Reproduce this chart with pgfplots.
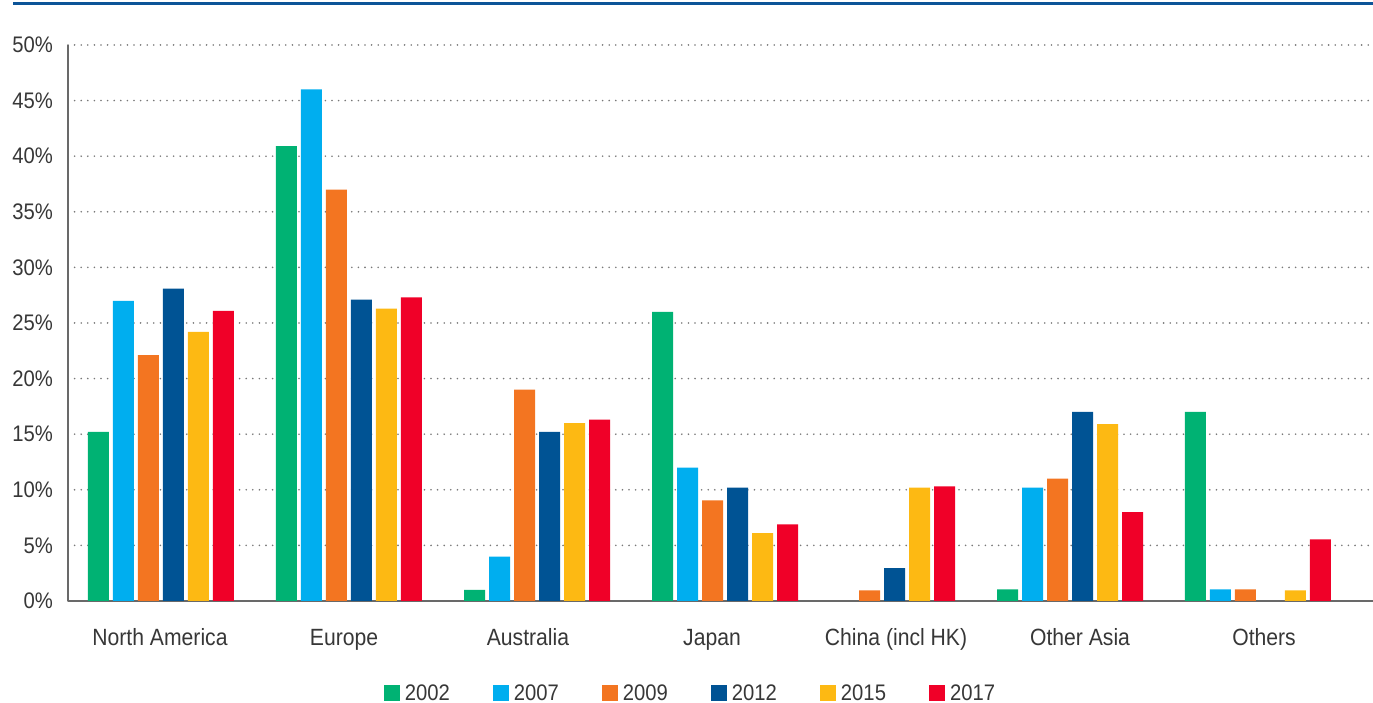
\documentclass[border=0pt]{standalone}
\usepackage{pgfplots}
\pgfplotsset{compat=1.18}
\usepackage{fontspec}
\setmainfont{Liberation Sans}[FakeStretch=0.9]
\definecolor{c2002}{RGB}{0,178,115}
\definecolor{c2007}{RGB}{0,174,239}
\definecolor{c2009}{RGB}{243,117,33}
\definecolor{c2012}{RGB}{0,83,148}
\definecolor{c2015}{RGB}{253,185,19}
\definecolor{c2017}{RGB}{240,0,40}
\definecolor{topblue}{RGB}{12,84,152}
\definecolor{txt}{RGB}{55,55,55}
\definecolor{axisgray}{RGB}{105,105,105}
\definecolor{gridgray}{RGB}{120,120,120}
% group centres (in category units; labels sit at 0,...,6)
% NA 0.005, Europe 1.027, Australia 2.049, Japan 3.071, China 3.924, Other Asia 4.946, Others 5.967
\begin{document}
\begin{tikzpicture}
\useasboundingbox (0pt,0pt) rectangle (1373pt,703pt);
\draw[line width=2.4pt, topblue] (13pt,699.5pt) -- (1373pt,699.5pt);
\begin{axis}[
  at={(68pt,102pt)}, anchor=south west,
  scale only axis, width=1305pt, height=556pt,
  xmin=-0.5, xmax=6.592, ymin=0, ymax=50,
  ybar=4pt, bar width=21pt,
  axis x line*=bottom, axis y line*=left,
  x axis line style={-, axisgray, line width=2.5pt},
  y axis line style={-, axisgray, line width=2pt},
  xtick={0,...,6},
  xticklabels={North America, Europe, Australia, Japan, China (incl HK), Other Asia, Others},
  ytick={0,5,...,50},
  yticklabels={0\%,5\%,10\%,15\%,20\%,25\%,30\%,35\%,40\%,45\%,50\%},
  major tick length=0pt,
  ymajorgrids,
  grid style={gridgray, line width=1.8pt, line cap=round, dash pattern=on 0pt off 6.6pt},
  yticklabel style={font=\fontsize{22.5}{27}\selectfont, text=txt, inner sep=0pt, anchor=east, xshift=-15pt},
  xticklabel style={font=\fontsize{23.5}{28}\selectfont, text=txt, inner sep=0pt, anchor=base, yshift=-45pt},
  legend columns=6,
  legend style={at={(0.4762,-0.1655)}, anchor=center, draw=none, fill=none,
    font=\fontsize{22.5}{27}\selectfont, text=txt,
    nodes={inner sep=0pt},
    /tikz/every odd column/.append style={column sep=5pt},
    /tikz/every even column/.append style={column sep=43pt}},
  sq/.style={legend image code/.code={\fill[##1] (0pt,-8pt) rectangle (16pt,8pt);}},
]
\addplot[fill=c2002, draw=none, sq] coordinates {(0.005,15.2) (1.027,40.9) (2.049,1.0) (3.071,26.0) (4.946,1.05) (5.967,17.0)};
\addplot[fill=c2007, draw=none, sq] coordinates {(0.005,27.0) (1.027,46.0) (2.049,4.0) (3.071,12.0) (4.946,10.2) (5.967,1.05)};
\addplot[fill=c2009, draw=none, sq] coordinates {(0.005,22.1) (1.027,37.0) (2.049,19.0) (3.071,9.05) (3.924,0.96) (4.946,11.0) (5.967,1.05)};
\addplot[fill=c2012, draw=none, sq] coordinates {(0.005,28.1) (1.027,27.1) (2.049,15.2) (3.071,10.2) (3.924,2.95) (4.946,17.0)};
\addplot[fill=c2015, draw=none, sq] coordinates {(0.005,24.2) (1.027,26.3) (2.049,16.0) (3.071,6.1) (3.924,10.2) (4.946,15.9) (5.967,0.96)};
\addplot[fill=c2017, draw=none, sq] coordinates {(0.005,26.1) (1.027,27.3) (2.049,16.3) (3.071,6.9) (3.924,10.3) (4.946,8.0) (5.967,5.55)};
\legend{2002,2007,2009,2012,2015,2017}
\end{axis}
\end{tikzpicture}
\end{document}
